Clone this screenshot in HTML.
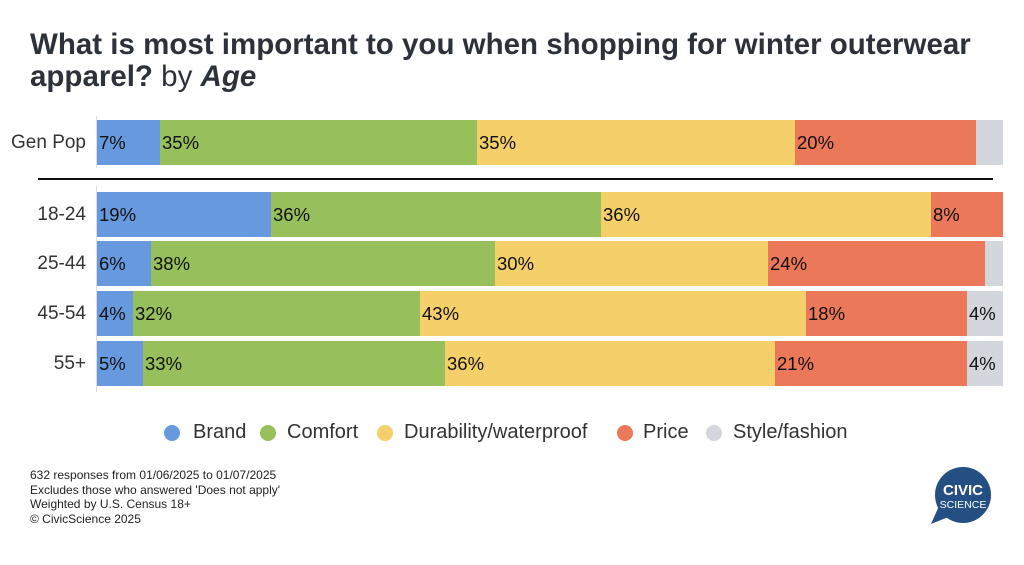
<!DOCTYPE html>
<html><head><meta charset="utf-8"><style>
body{margin:0;width:1024px;height:565px;background:#fff;position:relative;overflow:hidden;font-family:"Liberation Sans",sans-serif;color:#222}
.a{position:absolute}
.s{position:absolute;height:45px;font-size:18.5px;line-height:45px;padding-left:2px;box-sizing:border-box;color:#111}
.b{background:#6699dd}.g{background:#97c05c}.y{background:#f5cf6a}.r{background:#ec785a}.x{background:#d3d7dd}
.lab{position:absolute;right:938px;font-size:19px;color:#333;line-height:45px}
.leg{position:absolute;top:420px;font-size:20px;color:#333;line-height:24px;white-space:nowrap}
.dot{position:absolute;top:4px;width:16px;height:16px;border-radius:50%}
</style></head><body>
<div class="a" style="left:30px;top:29px;font-size:29.5px;font-weight:bold;color:#2d323a;line-height:32px;width:1000px;white-space:nowrap">What is most important to you when shopping for winter outerwear<br>apparel? <span style="font-weight:normal">by</span> <i>Age</i></div>

<div class="a" style="left:96px;top:116px;width:1px;height:52px;background:#ddd"></div>
<div class="a" style="left:96px;top:186px;width:1px;height:206px;background:#ddd"></div>
<div class="a" style="left:38px;top:178px;width:955px;height:2px;background:#111"></div>

<div class="lab" style="top:120px">Gen Pop</div>
<div class="s b" style="top:120px;left:97px;width:63px">7%</div>
<div class="s g" style="top:120px;left:160px;width:317px">35%</div>
<div class="s y" style="top:120px;left:477px;width:318px">35%</div>
<div class="s r" style="top:120px;left:795px;width:181px">20%</div>
<div class="s x" style="top:120px;left:976px;width:27px"></div>

<div class="lab" style="top:192px">18-24</div>
<div class="s b" style="top:192px;left:97px;width:174px">19%</div>
<div class="s g" style="top:192px;left:271px;width:330px">36%</div>
<div class="s y" style="top:192px;left:601px;width:330px">36%</div>
<div class="s r" style="top:192px;left:931px;width:72px">8%</div>

<div class="lab" style="top:241px">25-44</div>
<div class="s b" style="top:241px;left:97px;width:54px">6%</div>
<div class="s g" style="top:241px;left:151px;width:344px">38%</div>
<div class="s y" style="top:241px;left:495px;width:273px">30%</div>
<div class="s r" style="top:241px;left:768px;width:217px">24%</div>
<div class="s x" style="top:241px;left:985px;width:18px"></div>

<div class="lab" style="top:291px">45-54</div>
<div class="s b" style="top:291px;left:97px;width:36px">4%</div>
<div class="s g" style="top:291px;left:133px;width:287px">32%</div>
<div class="s y" style="top:291px;left:420px;width:386px">43%</div>
<div class="s r" style="top:291px;left:806px;width:161px">18%</div>
<div class="s x" style="top:291px;left:967px;width:36px">4%</div>

<div class="lab" style="top:341px">55+</div>
<div class="s b" style="top:341px;left:97px;width:46px">5%</div>
<div class="s g" style="top:341px;left:143px;width:302px">33%</div>
<div class="s y" style="top:341px;left:445px;width:330px">36%</div>
<div class="s r" style="top:341px;left:775px;width:192px">21%</div>
<div class="s x" style="top:341px;left:967px;width:36px">4%</div>

<span class="dot b a" style="left:164px;top:425px"></span><div class="leg" style="left:193px">Brand</div>
<span class="dot g a" style="left:260px;top:425px"></span><div class="leg" style="left:287px">Comfort</div>
<span class="dot y a" style="left:377px;top:425px"></span><div class="leg" style="left:404px">Durability/waterproof</div>
<span class="dot r a" style="left:617px;top:425px"></span><div class="leg" style="left:643px">Price</div>
<span class="dot x a" style="left:706px;top:425px"></span><div class="leg" style="left:733px">Style/fashion</div>

<div class="a" style="left:30px;top:468px;font-size:12px;line-height:14.5px;color:#222">632 responses from 01/06/2025 to 01/07/2025<br>Excludes those who answered 'Does not apply'<br>Weighted by U.S. Census 18+<br>© CivicScience 2025</div>

<svg class="a" style="left:925px;top:462px" width="70" height="70">
<circle cx="38" cy="33" r="28" fill="#244f82"/>
<polygon points="14,44 26,54 6,62" fill="#244f82"/>
<text x="38" y="33" text-anchor="middle" font-family="Liberation Sans" font-weight="bold" font-size="15" fill="#fff">CIVIC</text>
<text x="38" y="46" text-anchor="middle" font-family="Liberation Sans" font-size="10.5" fill="#fff">SCIENCE</text>
</svg>
</body></html>
